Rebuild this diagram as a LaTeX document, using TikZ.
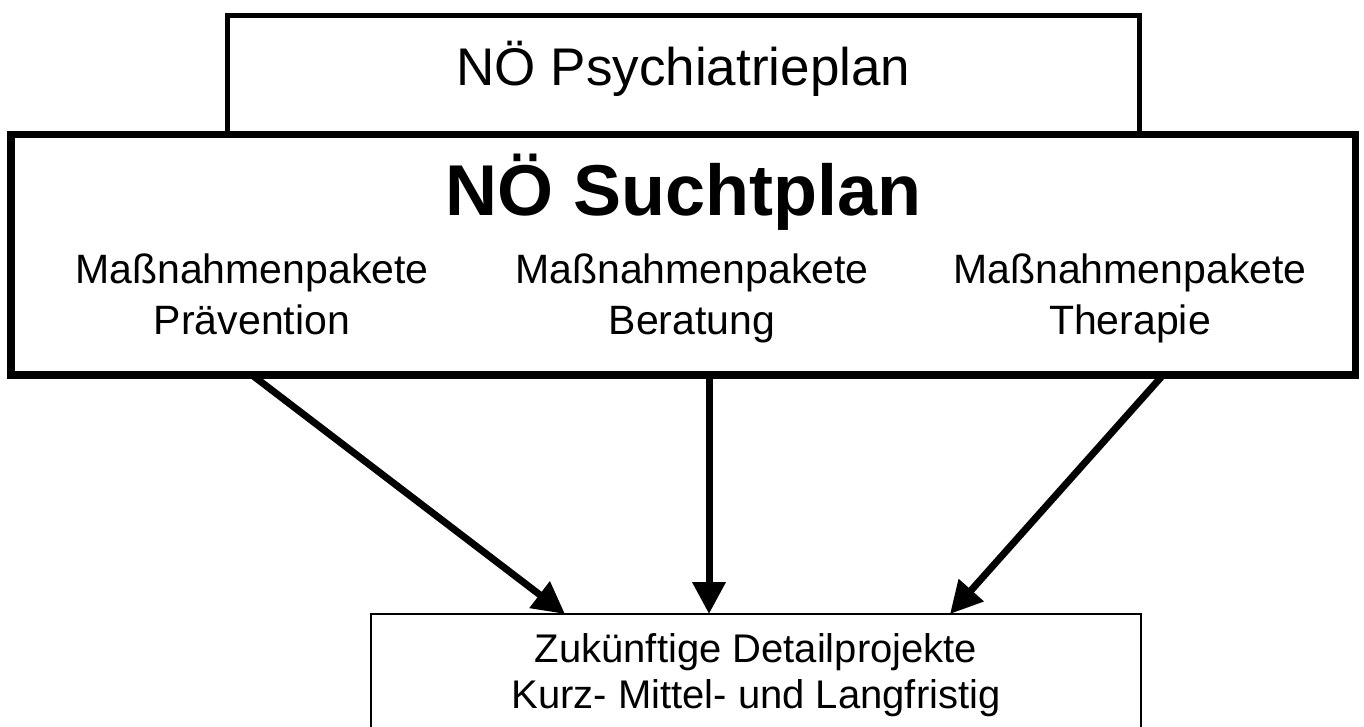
\documentclass[tikz,border=0pt]{standalone}
\usepackage{fontspec}
\setmainfont{Liberation Sans}
\usetikzlibrary{arrows.meta}
\begin{document}
\begin{tikzpicture}[x=1pt,y=-1pt,
  lbl/.style={anchor=base,inner sep=0pt,font=\fontsize{41}{48}\selectfont},
  blbl/.style={anchor=base,inner sep=0pt,font=\fontsize{40}{48}\selectfont},
  arr/.style={line width=7pt,-{Triangle[length=32pt,width=32pt]}}]
\useasboundingbox (0,0) rectangle (1364,727);
% top box
\node[draw,line width=5pt,minimum width=912pt,minimum height=119pt,inner sep=0pt] (psy) at (683.5,75) {};
\node[anchor=base,inner sep=0pt,font=\fontsize{53}{60}\selectfont] (psyt) at (683.5,86) {NÖ Psychiatrieplan};
% main box
\node[draw,line width=7.5pt,fill=white,minimum width=1344.5pt,minimum height=240.5pt,inner sep=0pt] (sucht) at (683.25,254.75) {};
\node[anchor=base,inner sep=0pt,font=\bfseries\fontsize{72}{80}\selectfont] (suchtt) at (683.25,216) {NÖ Suchtplan};
\node[lbl] (m1a) at (252,283) {Maßnahmenpakete};
\node[lbl] (m1b) at (252,334.5) {Prävention};
\node[lbl] (m2a) at (692,283) {Maßnahmenpakete};
\node[lbl] (m2b) at (692,334.5) {Beratung};
\node[lbl] (m3a) at (1130,283) {Maßnahmenpakete};
\node[lbl] (m3b) at (1130,334.5) {Therapie};
% bottom box
\node[draw,line width=1.5pt,minimum width=770pt,minimum height=140pt,inner sep=0pt] (det) at (756,684) {};
\node[blbl] (d1) at (756,662) {Zukünftige Detailprojekte};
\node[blbl] (d2) at (756,708) {Kurz- Mittel- und Langfristig};
% arrows
\coordinate (s1) at (252,375);
\coordinate (s2) at (709,375);
\coordinate (s3) at (1163,375);
\coordinate (e1) at (565,614);
\coordinate (e2) at (709,614);
\coordinate (e3) at (950,614);
\draw[arr] (s1) -- (e1);
\draw[arr] (s2) -- (e2);
\draw[arr] (s3) -- (e3);
\end{tikzpicture}
\end{document}
